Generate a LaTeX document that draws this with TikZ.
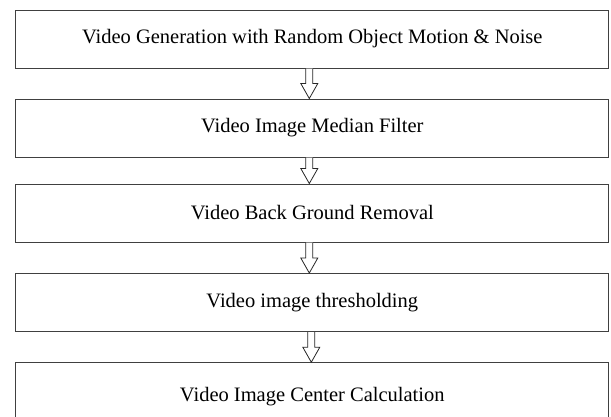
\documentclass[tikz,border=0pt]{standalone}
\usepackage{fontspec}
\setmainfont{Liberation Serif}
\usetikzlibrary{calc}
\tikzset{
  stepbox/.style={draw=black!75, line width=1pt, rectangle, minimum width=593pt, minimum height=58pt, inner sep=0pt, font=\fontsize{20.5}{24}\selectfont, text=black},
  hollowarr/.style={draw=black!85, line width=0.8pt, fill=white, line join=miter}
}
\newcommand{\hollowarrow}[3]{%
  \path let \p1=(#1.south), \p2=(#2.north) in
    [hollowarr] (\x1+#3-3.5pt,\y1) -- (\x1+#3-3.5pt,\y2+15pt) -- (\x1+#3-8.5pt,\y2+15pt)
    -- (\x1+#3,\y2) -- (\x1+#3+8.5pt,\y2+15pt) -- (\x1+#3+3.5pt,\y2+15pt)
    -- (\x1+#3+3.5pt,\y1);
}
\begin{document}
\begin{tikzpicture}[x=1pt,y=1pt]
\useasboundingbox (0,0) rectangle (611,-416);
\fill[white] (0,0) rectangle (611,-416);
\node[stepbox] (b1) at (312.3,-39) {Video Generation with Random Object Motion \& Noise};
\node[stepbox] (b2) at (312.3,-128) {Video Image Median Filter};
\node[stepbox] (b3) at (312.3,-213) {Video Back Ground Removal};
\node[stepbox] (b4) at (312.3,-302.5) {Video image thresholding};
\node[stepbox, minimum height=68pt] (b5) at (312.3,-396.7) {Video Image Center Calculation};
\hollowarrow{b1}{b2}{-3pt}
\hollowarrow{b2}{b3}{-3pt}
\hollowarrow{b3}{b4}{-3pt}
\hollowarrow{b4}{b5}{-1pt}
\end{tikzpicture}
\end{document}
